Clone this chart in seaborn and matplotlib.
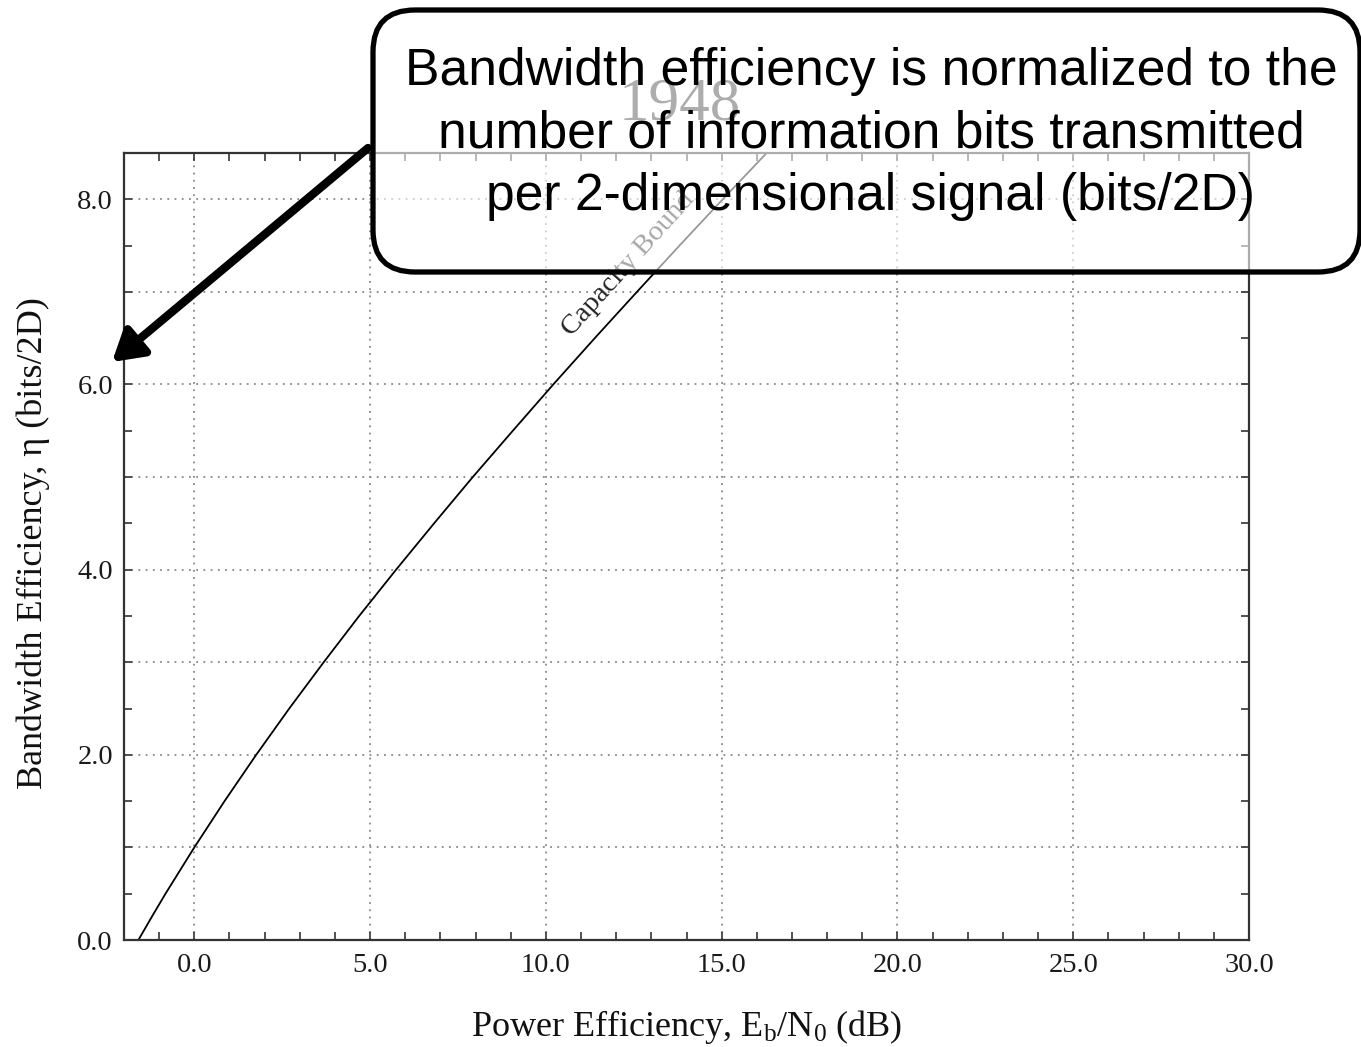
import matplotlib
matplotlib.use("Agg")
import matplotlib.pyplot as plt
from matplotlib.patches import FancyBboxPatch
from matplotlib.ticker import MultipleLocator, FuncFormatter
import seaborn as sns
import pandas as pd

# Shannon capacity bound
eta_bits = [0.0, 0.25, 0.5, 0.75, 1.0, 1.5, 2.0, 2.5, 3.0, 3.5, 4.0, 4.5,
            5.0, 5.5, 6.0, 6.5, 7.0, 7.5, 8.0, 8.5]
ebn0_db = [-1.59, -1.21, -0.82, -0.41, 0.0, 0.86, 1.76, 2.70, 3.68, 4.69, 5.74, 6.82,
           7.92, 9.06, 10.21, 11.39, 12.59, 13.80, 15.03, 16.28]

x_label = "Power Efficiency, E$_{b}$/N$_{0}$ (dB)"
y_label = "Bandwidth Efficiency, \u03b7 (bits/2D)"
curve_label = "Capacity Bound"
year_label = "1948"
callout_text = ("Bandwidth efficiency is normalized to the\n"
                "number of information bits transmitted\n"
                "per 2-dimensional signal (bits/2D)")

sns.set_style("ticks")
plt.rcParams["font.family"] = ["Liberation Serif", "DejaVu Serif"]
plt.rcParams["mathtext.fontset"] = "custom"
plt.rcParams["mathtext.rm"] = "Liberation Serif"
plt.rcParams["mathtext.it"] = "Liberation Serif"
plt.rcParams["mathtext.default"] = "regular"

W, H = 1361, 1047
fig = plt.figure(figsize=(W / 100, H / 100), dpi=100)
ax = fig.add_axes([124 / W, 1 - 940 / H, 1125 / W, 787 / H])

df = pd.DataFrame({"ebn0": ebn0_db, "eta": eta_bits})
sns.lineplot(data=df, x="ebn0", y="eta", ax=ax, color="black", lw=1.3, sort=False)

ax.set_xlim(-2, 30)
ax.set_ylim(0, 8.5)
ax.xaxis.set_major_locator(MultipleLocator(5))
ax.xaxis.set_minor_locator(MultipleLocator(1))
ax.yaxis.set_major_locator(MultipleLocator(1))
ax.yaxis.set_minor_locator(MultipleLocator(0.5))
ax.xaxis.set_major_formatter(FuncFormatter(lambda v, p: f"{v:.1f}"))
ax.yaxis.set_major_formatter(FuncFormatter(lambda v, p: f"{v:.1f}" if round(v) % 2 == 0 else ""))
ax.tick_params(which="both", direction="in", top=True, right=True, length=5.5,
               width=1.2, color="#333333", labelsize=20.5, labelcolor="#1a1a1a")
ax.tick_params(axis="x", pad=9)
ax.tick_params(axis="y", pad=8)
ax.grid(True, which="major", linestyle=(0, (1, 3)), color="#888888", lw=1.3)
for s in ax.spines.values():
    s.set_color("#333333")
    s.set_linewidth(1.6)

ax.set_xlabel(x_label, fontsize=26, color="#111111")
ax.set_ylabel(y_label, fontsize=26, color="#111111", va="center")
ax.xaxis.set_label_coords(0.5, -0.086)
ax.yaxis.set_label_coords(-0.081, 0.505)

ax.text(12.36, 7.30, curve_label, rotation=48, rotation_mode="anchor",
        ha="center", va="center", fontsize=20.5, color="#222222")
ax.text(680 / W, 1 - 105 / H, year_label, transform=fig.transFigure, clip_on=False,
        ha="center", va="center", fontsize=44, color="#333333")

# overlay in pixel coordinates for the callout
ov = fig.add_axes([0, 0, 1, 1])
ov.set_xlim(0, W)
ov.set_ylim(H, 0)
ov.patch.set_alpha(0)
ov.axis("off")
box = FancyBboxPatch((373, 10), 987, 262, boxstyle="round,pad=0,rounding_size=42",
                     fc=(1, 1, 1, 0.6), ec="black", lw=3.8)
ov.add_patch(box)
ov.annotate("", xy=(112, 362), xytext=(368, 148),
            arrowprops=dict(arrowstyle="-|>,head_length=1.0,head_width=0.6",
                            lw=6, color="black", shrinkA=0, shrinkB=0,
                            mutation_scale=18))
ov.text(871, 134, callout_text, ha="center", va="center", fontsize=37.2,
        family=["Liberation Sans", "DejaVu Sans"], linespacing=1.35, color="black")

fig.savefig("out.png", dpi=100)
